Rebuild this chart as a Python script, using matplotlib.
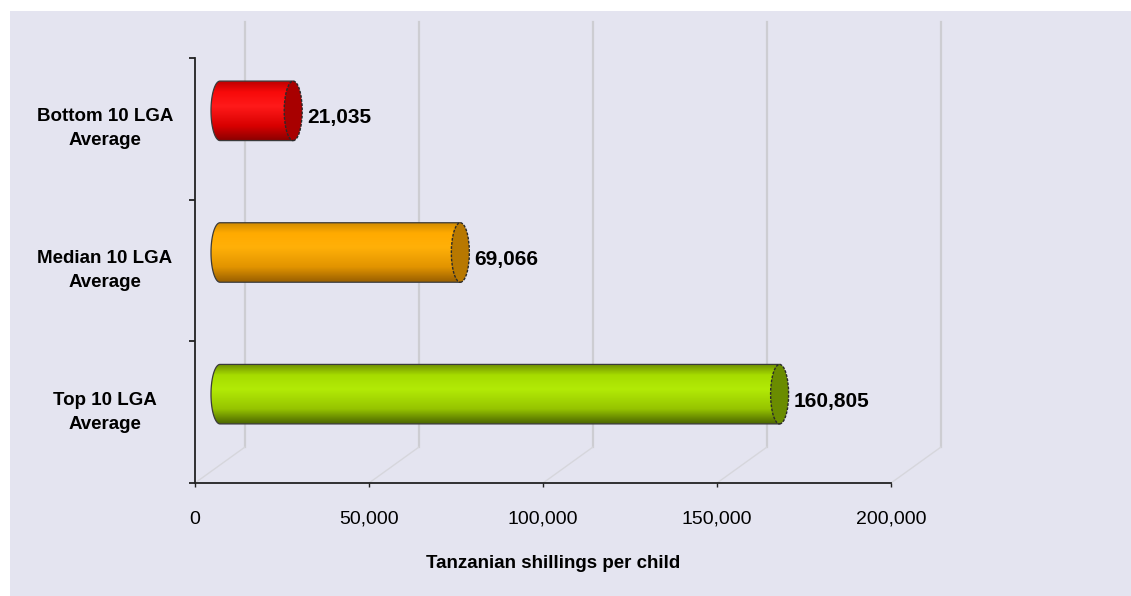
import numpy as np
import matplotlib.pyplot as plt
from matplotlib import transforms
from matplotlib.colors import LinearSegmentedColormap
from matplotlib.patches import Ellipse, PathPatch, Rectangle, ConnectionPatch
from matplotlib.path import Path

plt.rcParams['font.family'] = ['Liberation Sans', 'DejaVu Sans']

# bottom to top on the chart
categories = ['Top 10 LGA\nAverage', 'Median 10 LGA\nAverage', 'Bottom 10 LGA\nAverage']
values = [160805, 69066, 21035]
value_labels = ['160,805', '69,066', '21,035']
xticks = [0, 50000, 100000, 150000, 200000]
xtick_labels = ['0', '50,000', '100,000', '150,000', '200,000']

# body shading top -> bottom, and the colour of the end cap
shades = [
    ['#6f9000', '#a6dc00', '#b2ea06', '#96c400', '#4c6600'],
    ['#d08a00', '#ffaa00', '#ffb008', '#e29400', '#9a6000'],
    ['#c00000', '#f80a0a', '#ff1a1a', '#d80000', '#8a0000'],
]
cap_colors = ['#6a8c00', '#b87800', '#a80000']

BG = '#e4e4f0'
DEPTH = (50, 36)  # pixel offset from front plane to back wall

fig = plt.figure(figsize=(11.31, 5.96), dpi=100)
fig.patch.set_facecolor('white')
fig.patches.append(Rectangle((10 / 1131, 0.0), 1.0, 585 / 596, transform=fig.transFigure,
                             facecolor=BG, edgecolor='none', zorder=-10))

ax = fig.add_axes([195 / 1131, 113 / 596, 696 / 1131, 425 / 596])
ax.set_facecolor('none')
ax.set_xlim(0, 200000)
ax.set_ylim(-0.5, 2.5)

back = transforms.offset_copy(ax.transData, fig=fig, x=DEPTH[0], y=DEPTH[1], units='dots')
mid = transforms.offset_copy(ax.transData, fig=fig, x=DEPTH[0] / 2, y=DEPTH[1] / 2, units='dots')

# back wall grid and floor diagonals
for x in xticks:
    ax.plot([x, x], [-0.5, 2.5], transform=back, color='#cdcdd2', lw=1.6, clip_on=False, zorder=1)
    con = ConnectionPatch(xyA=(x, -0.5), coordsA=ax.transData, xyB=(x, -0.5), coordsB=back,
                          color='#d6d6dc', lw=1.0, zorder=1)
    ax.add_artist(con)

# cylinders
px_per_x = 696 / 200000
a = 9 / px_per_x
h = 0.21
for i, (v, cols, cap) in enumerate(zip(values, shades, cap_colors)):
    cmap = LinearSegmentedColormap.from_list('shade%d' % i, list(zip([0, 0.18, 0.42, 0.75, 1.0], cols)))
    theta = np.linspace(np.pi / 2, 3 * np.pi / 2, 60)
    arc = np.column_stack([a * np.cos(theta), i + h * np.sin(theta)])
    verts = np.vstack([[[v, i + h]], arc, [[v, i - h]], [[v, i + h]]])
    outline = PathPatch(Path(verts, closed=True), transform=mid, facecolor='none',
                        edgecolor='#3a3a3a', lw=0.9, zorder=4)
    ax.add_patch(outline)
    grad = cmap(np.linspace(0, 1, 120))[:, None, :]
    im = ax.imshow(grad, extent=[-a, v, i - h, i + h], transform=mid, aspect='auto',
                   interpolation='bilinear', zorder=3)
    im.set_clip_path(outline)
    ax.add_patch(Ellipse((v, i), 2 * a, 2 * h, transform=mid, facecolor=cap,
                         edgecolor='#2a2a2a', lw=1.0, linestyle=(0, (2, 1)), zorder=5))
    ax.text(v, i, value_labels[i], transform=transforms.offset_copy(
        ax.transData, fig=fig, x=39, y=11, units='dots'),
        ha='left', va='center', fontsize=15, fontweight='bold', color='black', zorder=6)

ax.set_xlim(0, 200000)
ax.set_ylim(-0.5, 2.5)

# axes, ticks and labels
for s in ['top', 'right']:
    ax.spines[s].set_visible(False)
for s in ['left', 'bottom']:
    ax.spines[s].set_color('#222222')
    ax.spines[s].set_linewidth(1.3)
ax.set_yticks([-0.5, 0.5, 1.5, 2.5])
ax.set_yticklabels([])
ax.tick_params(axis='y', length=4, width=1.3, color='#222222')
ax.set_xticks(xticks)
ax.set_xticklabels(xtick_labels, fontsize=14)
ax.tick_params(axis='x', length=3, width=1, color='#222222', pad=17)

label_tf = transforms.offset_copy(ax.get_yaxis_transform(), fig=fig, x=-90, y=0, units='dots')
for i, c in enumerate(categories):
    ax.text(0, i, c, transform=label_tf, ha='center', va='center', multialignment='center',
            fontsize=13.5, fontweight='bold', linespacing=1.55)

ax.set_xlabel('Tanzanian shillings per child', fontsize=13.5, fontweight='bold')
ax.xaxis.set_label_coords(0.514, -0.169)
ax.xaxis.label.set_va('top')

fig.savefig('out.png', dpi=100, facecolor=fig.get_facecolor())
